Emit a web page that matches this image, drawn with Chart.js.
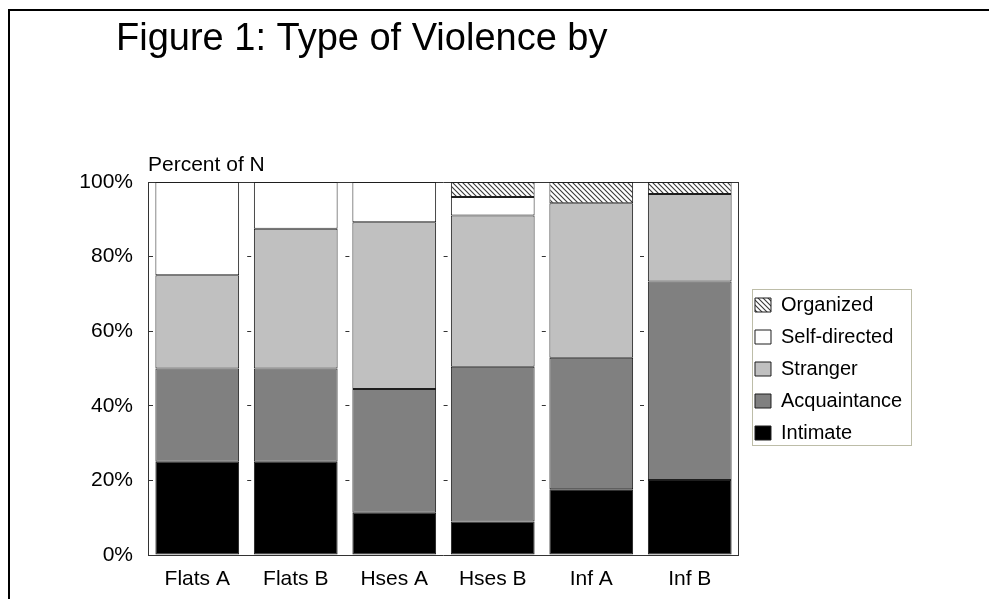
<!DOCTYPE html>
<html>
<head>
<meta charset="utf-8">
<script src="https://cdn.jsdelivr.net/npm/chart.js@4/dist/chart.umd.min.js"></script>
<style>
  html, body { margin: 0; padding: 0; background: #fff; }
  #wrap { position: relative; width: 989px; height: 599px; overflow: hidden; }
  #frame { position: absolute; left: 8px; top: 9px; right: -4px; bottom: -4px;
           border-top: 2px solid #000; border-left: 2px solid #000; }
  #chart { position: absolute; left: 0; top: 0; }
</style>
</head>
<body>
<div id="wrap">
  <div id="frame"></div>
  <canvas id="chart" width="989" height="599"></canvas>
</div>
<script>
// Dwelling types along the x axis
const categories = ['Flats A', 'Flats B', 'Hses A', 'Hses B', 'Inf A', 'Inf B'];

// Share of incidents (percent of N) for each type of violence
const intimate     = [25, 25, 11.3, 9, 17.6, 20.1];
const acquaintance = [25, 25, 33.2, 41.5, 35.3, 53.2];
const stranger     = [25, 37.5, 44.7, 40.5, 41.4, 23.5];
const selfDirected = [25, 12.5, 10.8, 5, 0, 0];
const organized    = [0, 0, 0, 4, 5.7, 3.2];

const yTicks = [0, 20, 40, 60, 80, 100];

const FONT = "'Liberation Sans', Arial, Helvetica, sans-serif";

// Diagonal hatch fill used for organized violence
function hatchPattern() {
  const s = 5;
  const c = document.createElement('canvas');
  c.width = s; c.height = s;
  const g = c.getContext('2d');
  g.fillStyle = '#ffffff';
  g.fillRect(0, 0, s, s);
  g.strokeStyle = '#3a3a3a';
  g.lineWidth = 1.1;
  g.beginPath();
  g.moveTo(-1, -1); g.lineTo(s + 1, s + 1);
  g.moveTo(s - 1, -1); g.lineTo(s + 1, 1);
  g.moveTo(-1, s - 1); g.lineTo(1, s + 1);
  g.stroke();
  return g.createPattern(c, 'repeat');
}

const edge = '#1e1e1e';
function series(label, data, fill) {
  return {
    label: label,
    data: data,
    backgroundColor: fill,
    borderColor: edge,
    borderWidth: 1,
    borderSkipped: false,
    categoryPercentage: 1.0,
    barPercentage: 0.85
  };
}

// Heading, axis caption and the legend frame
const decorations = {
  id: 'decorations',
  afterDraw(chart) {
    const ctx = chart.ctx;
    const area = chart.chartArea;
    ctx.save();
    ctx.fillStyle = '#000';
    ctx.textAlign = 'left';
    ctx.textBaseline = 'alphabetic';
    ctx.font = '38px ' + FONT;
    ctx.fillText('Figure 1: Type of Violence by', 116, 50);
    ctx.font = '21px ' + FONT;
    ctx.fillText('Percent of N', area.left, area.top - 11);

    const lg = chart.legend;
    const boxes = lg.legendHitBoxes;
    if (boxes && boxes.length) {
      const tops = boxes.map(b => b.top);
      const y1 = Math.min(...tops) - 6;
      const y2 = Math.max(...tops) + boxes[0].height + 2;
      const x1 = lg.left + 9;
      const x2 = lg.right - 1;
      ctx.strokeStyle = '#bdbda8';
      ctx.lineWidth = 1;
      ctx.strokeRect(Math.round(x1) + 0.5, Math.round(y1) + 0.5,
                     Math.round(x2 - x1), Math.round(y2 - y1));
    }
    ctx.restore();
  }
};

new Chart(document.getElementById('chart'), {
  type: 'bar',
  data: {
    labels: categories,
    datasets: [
      series('Intimate', intimate, '#000000'),
      series('Acquaintance', acquaintance, '#808080'),
      series('Stranger', stranger, '#c0c0c0'),
      series('Self-directed', selfDirected, '#ffffff'),
      series('Organized', organized, hatchPattern())
    ]
  },
  options: {
    responsive: false,
    animation: false,
    devicePixelRatio: 1,
    layout: { padding: { top: 182, left: 0, right: 76.8, bottom: 0 } },
    scales: {
      x: {
        stacked: true,
        grid: { display: false, drawTicks: false },
        border: { display: true, color: '#333', width: 1 },
        ticks: { color: '#000', font: { family: FONT, size: 21 }, padding: 12 },
        afterFit(scale) { scale.height = 44; }
      },
      xTop: {
        type: 'category',
        position: 'top',
        grid: { display: false, drawTicks: false },
        border: { display: true, color: '#333', width: 1 },
        ticks: { display: false },
        afterFit(scale) { scale.height = 0; }
      },
      y: {
        stacked: true,
        min: 0,
        max: 100,
        afterBuildTicks(scale) { scale.ticks = yTicks.map(v => ({ value: v })); },
        ticks: {
          color: '#000',
          font: { family: FONT, size: 21 },
          padding: 15,
          callback: v => v + '%'
        },
        grid: {
          drawTicks: false,
          lineWidth: 1,
          color: c => (c.tick && (c.tick.value === 0 || c.tick.value === 100)) ? 'rgba(0,0,0,0)' : '#333'
        },
        border: { display: true, color: '#333', width: 1, dash: [4, 94.2] },
        afterFit(scale) { scale.width = 148; }
      },
      yRight: {
        type: 'linear',
        position: 'right',
        grid: { display: false, drawTicks: false },
        border: { display: true, color: '#333', width: 1 },
        ticks: { display: false },
        afterFit(scale) { scale.width = 4; }
      }
    },
    plugins: {
      tooltip: { enabled: false },
      legend: {
        position: 'right',
        align: 'start',
        fullSize: false,
        reverse: true,
        maxWidth: 220,
        title: { display: true, text: ' ', font: { size: 10 }, padding: { top: 89, bottom: 0 } },
        labels: {
          boxWidth: 16,
          boxHeight: 14,
          padding: 12,
          color: '#000',
          font: { family: FONT, size: 20 }
        }
      }
    }
  },
  plugins: [decorations]
});
</script>
</body>
</html>
